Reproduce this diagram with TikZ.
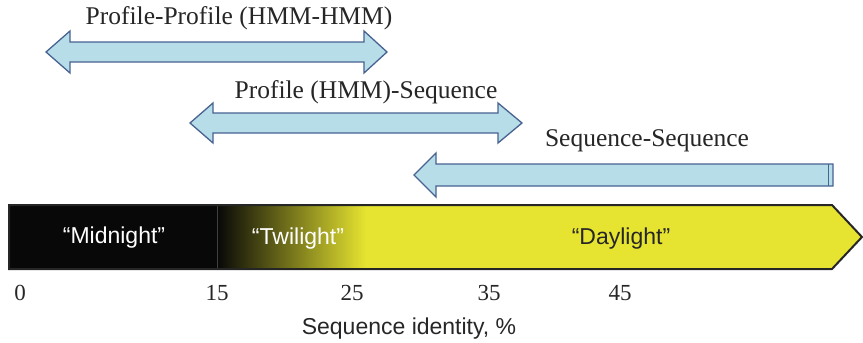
\documentclass[tikz,border=0pt]{standalone}
\usepackage{fontspec}
\setmainfont{Liberation Serif}
\setsansfont{Liberation Sans}
\definecolor{arrfill}{RGB}{183,221,232}
\definecolor{arrline}{RGB}{72,98,145}
\definecolor{dayyellow}{RGB}{230,228,48}
\tikzset{
  bigarrow/.style={fill=arrfill, draw=arrline, line width=1.3pt, line join=miter},
  arrlabel/.style={font=\fontsize{25.5}{29}\selectfont, inner sep=0pt, text=black!85},
  ticklabel/.style={font=\fontsize{23}{27}\selectfont, inner sep=0pt, text=black!85},
  zonelabel/.style={font=\sffamily\fontsize{23}{27}\selectfont, inner sep=0pt},
}
\begin{document}
\begin{tikzpicture}[x=1pt,y=-1pt]
\useasboundingbox (0,0) rectangle (863,343);
% Profile-Profile
\draw[bigarrow] (46,52) -- (70,31) -- (70,42) -- (364,42) -- (364,31) -- (387,52)
  -- (364,73) -- (364,62) -- (70,62) -- (70,73) -- cycle;
\node[arrlabel] (pp) at (239,18) {Profile-Profile (HMM-HMM)};
% Profile-Sequence
\draw[bigarrow] (190,123) -- (213,103) -- (213,113) -- (498,113) -- (498,103) -- (522,123)
  -- (498,143) -- (498,133) -- (213,133) -- (213,143) -- cycle;
\node[arrlabel] (ps) at (366,92) {Profile (HMM)-Sequence};
% Sequence-Sequence
\draw[bigarrow] (414,175) -- (436,153) -- (436,164) -- (833,164) -- (833,186)
  -- (436,186) -- (436,197) -- cycle;
\draw[arrline, line width=1.4pt] (828.5,164) -- (828.5,186);
\node[arrlabel] (ss) at (647,141) {Sequence-Sequence};
% Bar
\fill[dayyellow] (9,205) -- (832,205) -- (862,237) -- (832,269) -- (9,269) -- cycle;
\fill[black!97] (9,205) rectangle (218,269);
\shade[left color=black!97, right color=dayyellow] (217,205) rectangle (366,269);
\draw[black!75, line width=0.8pt] (217,206) -- (217,268);
\draw[black!85, line width=2pt, line join=miter] (9,205) -- (832,205) -- (862,237) -- (832,269) -- (9,269) -- cycle;
\node[zonelabel, text=white] (mid) at (114,238) {“Midnight”};
\node[zonelabel, text=white] (twi) at (298,239) {“Twilight”};
\node[zonelabel, text=black!85] (day) at (621,239) {“Daylight”};
% ticks
\node[ticklabel] (t0) at (20,293) {0};
\node[ticklabel] (t15) at (217,293) {15};
\node[ticklabel] (t25) at (352,293) {25};
\node[ticklabel] (t35) at (489,293) {35};
\node[ticklabel] (t45) at (620,293) {45};
\node[zonelabel, text=black!85] (axis) at (409,329) {Sequence identity, \%};
\end{tikzpicture}
\end{document}
